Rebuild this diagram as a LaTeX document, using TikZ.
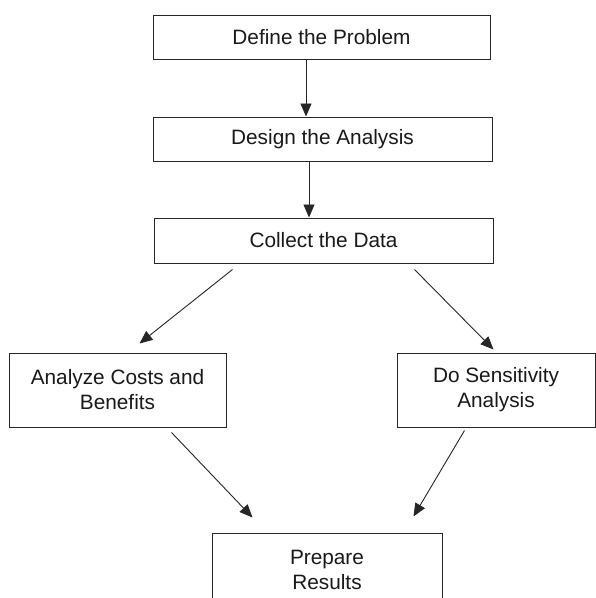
\documentclass[tikz,border=0pt]{standalone}
\usepackage{fontspec}
\setmainfont{Liberation Sans}
\usetikzlibrary{arrows.meta}
\begin{document}
\begin{tikzpicture}[x=1pt,y=-1pt,
  box/.style={draw=black!85, line width=1pt, inner sep=0pt, align=center,
    text=black!90, font=\fontsize{20.8}{25}\selectfont},
  arr/.style={draw=black!85, line width=0.9pt, -{Triangle[length=13pt,width=11pt]}}]
\useasboundingbox (0,0) rectangle (596,598);
\clip (0,0) rectangle (596,598);
\fill[white] (0,0) rectangle (596,598);
\node[box, minimum width=337pt, minimum height=44pt] (b1) at (321.5,37) {Define the Problem};
\node[box, minimum width=339pt, minimum height=44pt] (b2) at (322.5,139) {Design the Analysis};
\node[box, minimum width=339pt, minimum height=45pt] (b3) at (323.5,240.5) {Collect the Data};
\node[box, minimum width=217pt, minimum height=74pt] (b4) at (117.5,390) {Analyze Costs and\\Benefits};
\node[box, minimum width=198pt, minimum height=74pt] (b5) at (496,390) {Do Sensitivity\\Analysis};
\node[box, minimum width=230pt, minimum height=74pt] (b6) at (327,570) {Prepare\\Results};
\draw[arr] ([xshift=-15.5pt]b1.south) -- ([xshift=-15.5pt]b1.south |- b2.north);
\draw[arr] ([xshift=-13.5pt]b2.south) -- ([xshift=-13.5pt]b2.south |- b3.north);
\draw[arr] ([shift={(79,6)}]b3.south west) -- ([shift={(131,-9)}]b4.north west);
\draw[arr] ([shift={(-79,6)}]b3.south east) -- ([shift={(97,-3)}]b5.north west);
\draw[arr] ([shift={(163,5)}]b4.south west) -- ([shift={(41,-15)}]b6.north west);
\draw[arr] ([shift={(68,3)}]b5.south west) -- ([shift={(-29,-16)}]b6.north east);
\end{tikzpicture}
\end{document}
